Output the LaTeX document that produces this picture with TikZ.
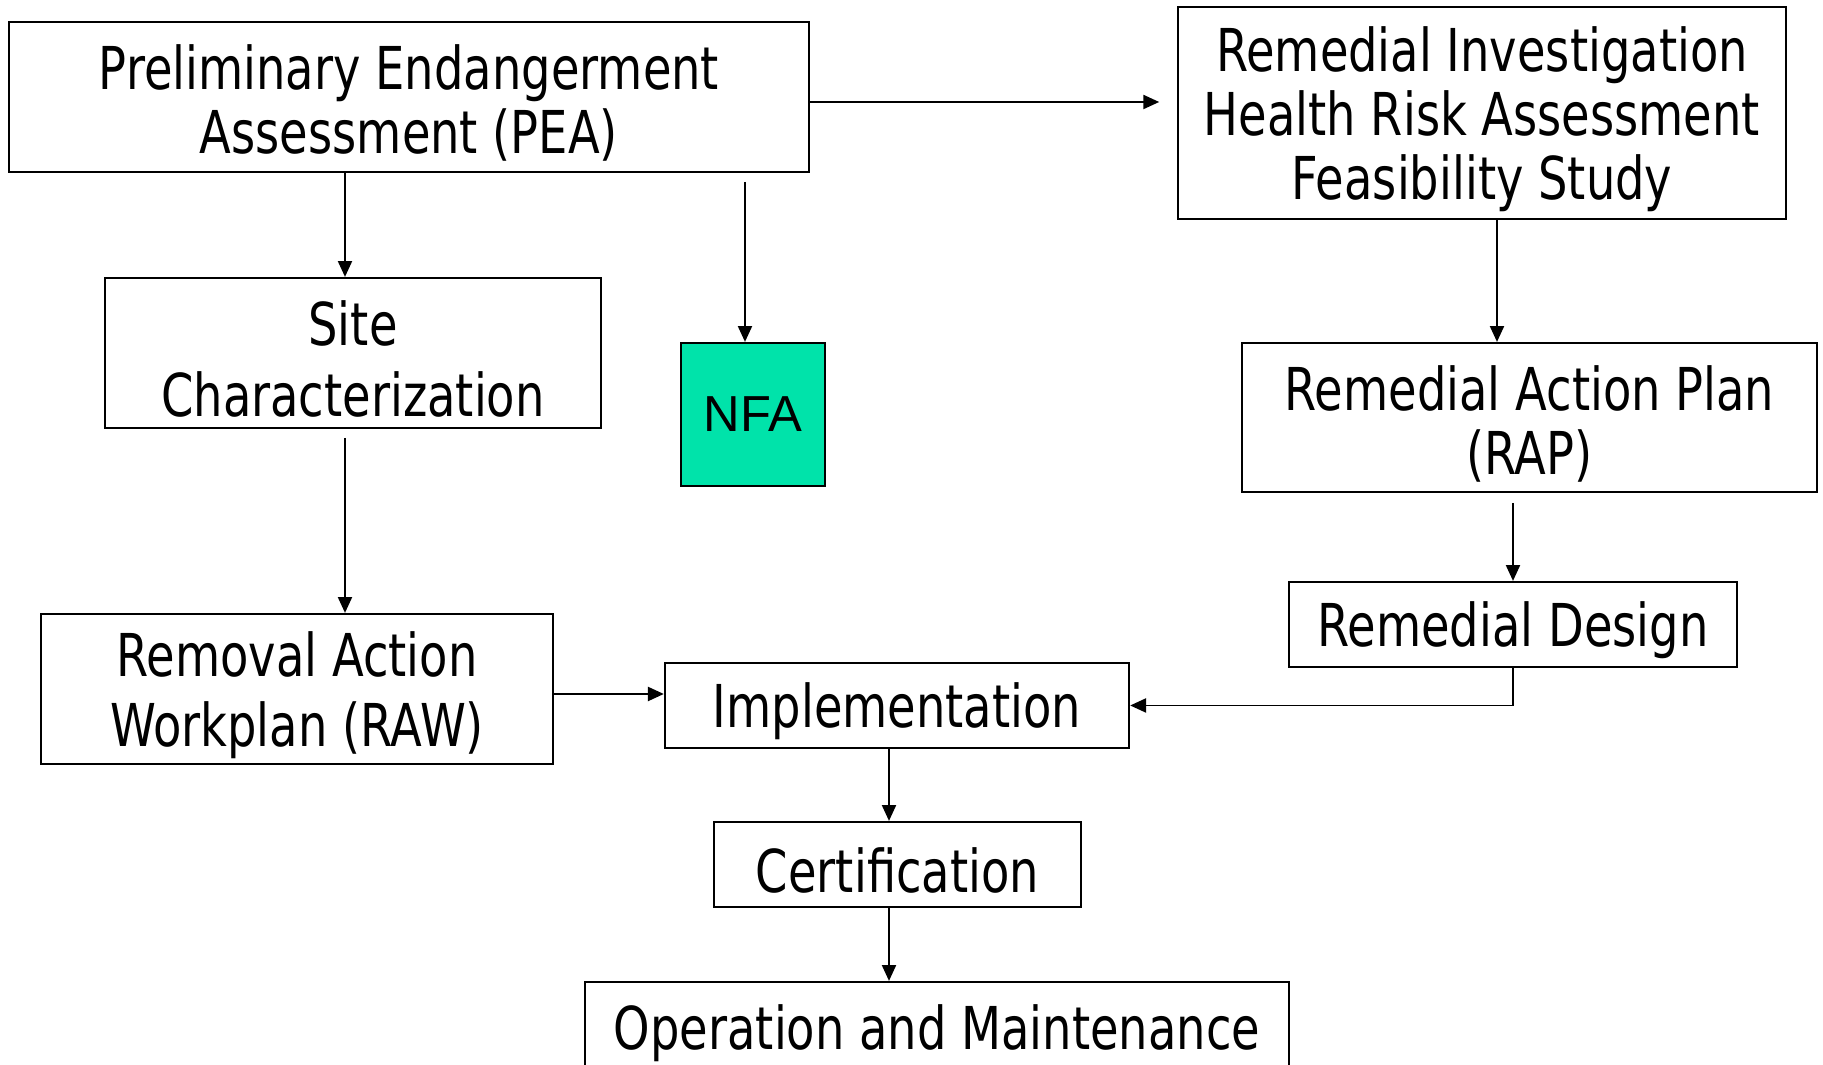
\documentclass[tikz,border=0pt]{standalone}
\usepackage{fontspec}
\setmainfont{DejaVu Sans}[FakeStretch=0.785]
\newfontfamily\nfafont{Liberation Sans}
\usetikzlibrary{arrows.meta,calc,positioning}
\newcommand\topgap{\rule{0pt}{16.2pt}}

\tikzset{
  stage/.style={draw,line width=0.6pt,align=center,inner sep=0pt,
    font=\fontsize{16.8}{18.2}\selectfont},
  widestage/.style={stage,font=\fontsize{16.8}{20}\selectfont},
  flow/.style={-{Triangle[length=4.5pt,width=4pt]},line width=0.5pt},
}

\begin{document}
\begin{tikzpicture}[x=0.01cm,y=-0.01cm]
\clip (0,0) rectangle (1823,1065);
% boxes
\node[stage,minimum width=8cm,minimum height=1.5cm](pea) at (409,97)
  {\topgap Preliminary Endangerment\\Assessment (PEA)};
\node[stage,minimum width=6.08cm,minimum height=2.12cm](ri) at (1482,113)
  {\topgap Remedial Investigation\\Health Risk Assessment\\Feasibility Study};
\node[widestage,minimum width=4.96cm,minimum height=1.5cm](site) at (353,353)
  {\topgap Site\\Characterization};
\node[draw,line width=0.6pt,fill={rgb,255:red,0;green,227;blue,170},
  minimum width=1.44cm,minimum height=1.43cm,font=\nfafont\fontsize{14.4}{16}\selectfont](nfa) at (753,414.5) {NFA};
\node[stage,minimum width=5.75cm,minimum height=1.49cm](rap) at (1529.5,417.5)
  {\topgap Remedial Action Plan\\(RAP)};
\node[stage,minimum width=4.48cm,minimum height=0.85cm](rd) at (1513,624.5)
  {\topgap Remedial Design};
\node[widestage,minimum width=5.12cm,minimum height=1.5cm](raw) at (297,689)
  {\topgap Removal Action\\Workplan (RAW)};
\node[stage,minimum width=4.64cm,minimum height=0.85cm](impl) at (897,705.5)
  {\topgap Implementation};
\node[stage,minimum width=3.67cm,minimum height=0.85cm](cert) at (897.5,864.5)
  {\topgap Certification};
\node[stage,minimum width=7.04cm,minimum height=0.9cm](om) at (937,1027)
  {\topgap Operation and Maintenance};
% arrow columns
\coordinate(xsite) at (345,0);
\coordinate(xnfa) at (745,0);
\coordinate(xrap) at (1497,0);
\coordinate(xrd) at (1513,0);
\coordinate(ximpl) at (889,0);
\coordinate(ypea) at (0,102);
\coordinate(yraw) at (0,694);
% connectors
\draw[flow,shorten >=5pt] (pea.east |- ypea) -- (ri.west |- ypea);
\draw[flow] (pea.south -| xsite) -- (site.north -| xsite);
\draw[flow,shorten <=2.5pt] (pea.south -| xnfa) -- (nfa.north -| xnfa);
\draw[flow,shorten <=2.5pt] (site.south -| xsite) -- (raw.north -| xsite);
\draw[flow] (ri.south -| xrap) -- (rap.north -| xrap);
\draw[flow,shorten <=2.8pt] (rap.south -| xrd) -- (rd.north -| xrd);
\draw[flow] (raw.east |- yraw) -- (impl.west |- yraw);
\draw[flow] (rd.south) |- (impl.east);
\draw[flow] (impl.south -| ximpl) -- (cert.north -| ximpl);
\draw[flow] (cert.south -| ximpl) -- (om.north -| ximpl);
\end{tikzpicture}
\end{document}
